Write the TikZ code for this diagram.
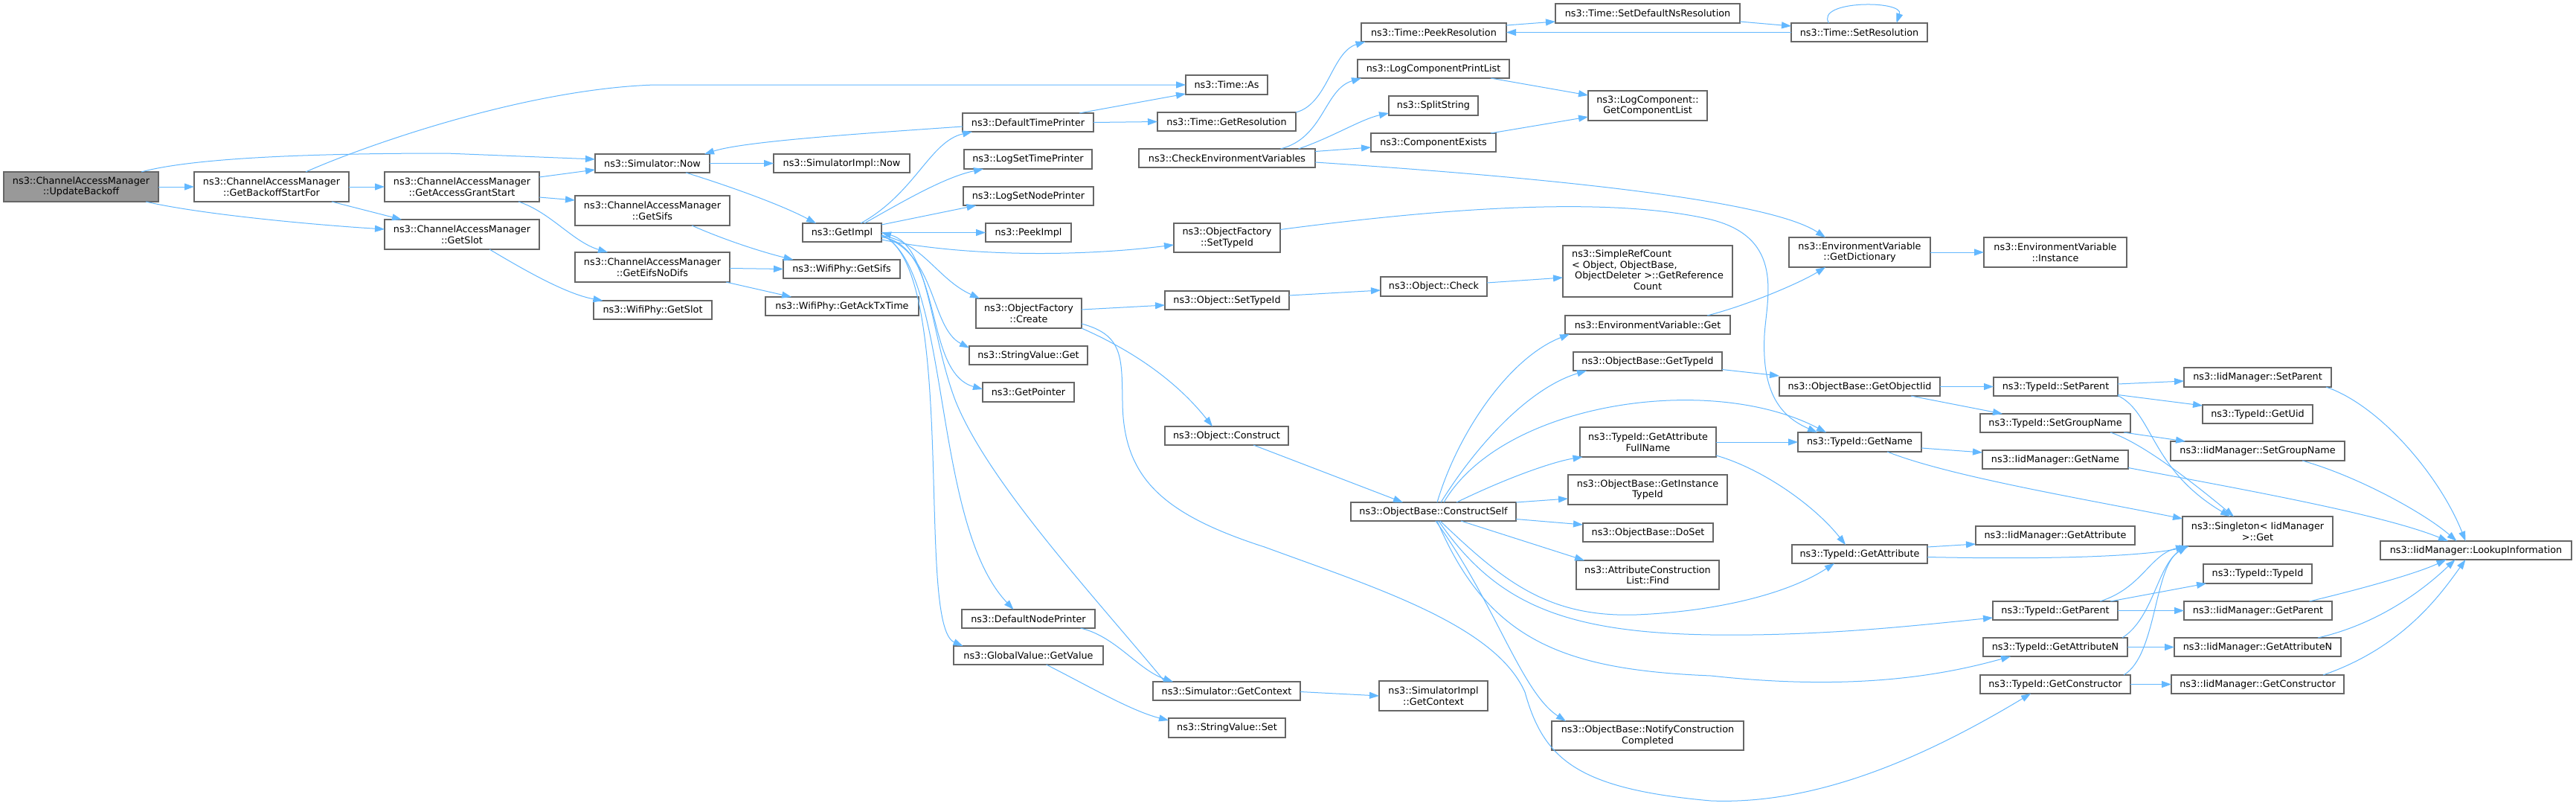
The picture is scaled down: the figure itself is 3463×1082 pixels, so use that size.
\documentclass[tikz,border=0pt]{standalone}
\usepackage{fontspec}
\setmainfont{DejaVu Sans}
\usetikzlibrary{arrows.meta}
\definecolor{edgecol}{HTML}{63B8FF}
\definecolor{boxline}{HTML}{666666}
\definecolor{rootfill}{HTML}{999999}
\tikzset{
 box/.style={draw=boxline, line width=1.2pt, fill=white, rectangle, inner sep=0pt, outer sep=0pt, align=center, font=\fontsize{12.8}{14.5}\selectfont},
 rootbox/.style={fill=rootfill},
 cg/.style={draw=edgecol, line width=1pt, -{Triangle[length=13pt,width=9pt]}},
}
\newcommand\NB[7][]{\node[box,#1,minimum width={#5-#3},minimum height={#6-#4}] (#2) at ({(#3+#5)/2},{(#4+#6)/2}) {#7};}
\begin{document}
\begin{tikzpicture}[x=1pt,y=-1pt]
\fill[white] (0,0) rectangle (3463,1082);
\useasboundingbox (0,0) rectangle (3463,1082);
% nodes
\NB[rootbox]{ub}{5}{231}{213}{271}{ns3::ChannelAccessManager\\::UpdateBackoff}
\NB{gbsf}{261}{231}{469}{271}{ns3::ChannelAccessManager\\::GetBackoffStartFor}
\NB{gags}{517}{231}{725}{271}{ns3::ChannelAccessManager\\::GetAccessGrantStart}
\NB{camslot}{517}{295}{725}{335}{ns3::ChannelAccessManager\\::GetSlot}
\NB{simnow}{800}{207}{954}{232}{ns3::Simulator::Now}
\NB{simimplnow}{1040}{207}{1223}{232}{ns3::SimulatorImpl::Now}
\NB{camsifs}{773}{263}{981}{303}{ns3::ChannelAccessManager\\::GetSifs}
\NB{eifs}{773}{339}{981}{379}{ns3::ChannelAccessManager\\::GetEifsNoDifs}
\NB{wpslot}{798}{404}{957}{429}{ns3::WifiPhy::GetSlot}
\NB{getimpl}{1079}{300}{1185}{325}{ns3::GetImpl}
\NB{wpsifs}{1053}{349}{1210}{374}{ns3::WifiPhy::GetSifs}
\NB{wpack}{1029}{399}{1235}{424}{ns3::WifiPhy::GetAckTxTime}
\NB{timeas}{1594}{101}{1704}{127}{ns3::Time::As}
\NB{dtp}{1294}{152}{1470}{177}{ns3::DefaultTimePrinter}
\NB{getres}{1556}{151}{1742}{176}{ns3::Time::GetResolution}
\NB{lstp}{1296}{201}{1468}{227}{ns3::LogSetTimePrinter}
\NB{cev}{1531}{200}{1768}{225}{ns3::CheckEnvironmentVariables}
\NB{lsnp}{1295}{251}{1470}{276}{ns3::LogSetNodePrinter}
\NB{peekimpl}{1325}{300}{1440}{325}{ns3::PeekImpl}
\NB{ofsettid}{1578}{300}{1721}{339}{ns3::ObjectFactory\\::SetTypeId}
\NB{ofcreate}{1312}{401}{1454}{441}{ns3::ObjectFactory\\::Create}
\NB{osettid}{1566}{391}{1733}{416}{ns3::Object::SetTypeId}
\NB{svget}{1303}{465}{1462}{490}{ns3::StringValue::Get}
\NB{getptr}{1321}{514}{1444}{540}{ns3::GetPointer}
\NB{peekres}{1830}{31}{2025}{56}{ns3::Time::PeekResolution}
\NB{setdefns}{2091}{5}{2339}{31}{ns3::Time::SetDefaultNsResolution}
\NB{lcpl}{1825}{80}{2029}{105}{ns3::LogComponentPrintList}
\NB{split}{1867}{129}{1987}{155}{ns3::SplitString}
\NB{compex}{1843}{179}{2011}{204}{ns3::ComponentExists}
\NB{getcl}{2135}{122}{2295}{162}{ns3::LogComponent::\\GetComponentList}
\NB{ocheck}{1856}{372}{1999}{398}{ns3::Object::Check}
\NB{srefc}{2101}{330}{2329}{399}{\begin{tabular}{@{}l@{}}ns3::SimpleRefCount\\{<} Object, ObjectBase,\\\multicolumn{1}{@{}c@{}}{\ ObjectDeleter {>}::GetReference}\\\multicolumn{1}{@{}c@{}}{Count}\end{tabular}}
\NB{envget}{2104}{424}{2326}{449}{ns3::EnvironmentVariable::Get}
\NB{obgettid}{2115}{473}{2315}{498}{ns3::ObjectBase::GetTypeId}
\NB{setres}{2408}{31}{2591}{56}{ns3::Time::SetResolution}
\NB{getdict}{2405}{319}{2595}{359}{ns3::EnvironmentVariable\\::GetDictionary}
\NB{envinst}{2667}{319}{2859}{359}{ns3::EnvironmentVariable\\::Instance}
\NB{getoiid}{2392}{507}{2608}{532}{ns3::ObjectBase::GetObjectIid}
\NB{tsetparent}{2680}{507}{2847}{532}{ns3::TypeId::SetParent}
\NB{isetparent}{2936}{494}{3134}{520}{ns3::IidManager::SetParent}
\NB{dnp}{1293}{819}{1472}{844}{ns3::DefaultNodePrinter}
\NB{gvget}{1282}{868}{1483}{893}{ns3::GlobalValue::GetValue}
\NB{simctx}{1550}{916}{1748}{941}{ns3::Simulator::GetContext}
\NB{svset}{1571}{965}{1728}{991}{ns3::StringValue::Set}
\NB{oconstruct}{1566}{573}{1732}{598}{ns3::Object::Construct}
\NB{cself}{1816}{675}{2038}{700}{ns3::ObjectBase::ConstructSelf}
\NB{sictx}{1854}{915}{2000}{955}{ns3::SimulatorImpl\\::GetContext}
\NB{gafn}{2124}{574}{2307}{614}{ns3::TypeId::GetAttribute\\FullName}
\NB{gitid}{2108}{638}{2322}{678}{ns3::ObjectBase::GetInstance\\TypeId}
\NB{doset}{2128}{703}{2303}{728}{ns3::ObjectBase::DoSet}
\NB{aclfind}{2119}{753}{2311}{792}{ns3::AttributeConstruction\\List::Find}
\NB{ncc}{2086}{969}{2344}{1008}{ns3::ObjectBase::NotifyConstruction\\Completed}
\NB{tgetname}{2417}{581}{2583}{607}{ns3::TypeId::GetName}
\NB{tgetattr}{2409}{732}{2591}{757}{ns3::TypeId::GetAttribute}
\NB{tsetgroup}{2662}{556}{2864}{581}{ns3::TypeId::SetGroupName}
\NB{igetname}{2665}{605}{2861}{630}{ns3::IidManager::GetName}
\NB{igetattr}{2656}{707}{2870}{732}{ns3::IidManager::GetAttribute}
\NB{tgetparent}{2679}{808}{2847}{833}{ns3::TypeId::GetParent}
\NB{tgetattrn}{2666}{857}{2860}{882}{ns3::TypeId::GetAttributeN}
\NB{tgetctor}{2662}{907}{2864}{932}{ns3::TypeId::GetConstructor}
\NB{tgetuid}{2961}{544}{3109}{569}{ns3::TypeId::GetUid}
\NB{isetgroup}{2918}{593}{3152}{619}{ns3::IidManager::SetGroupName}
\NB{singleton}{2934}{694}{3136}{734}{ns3::Singleton{<} IidManager\\{>}::Get}
\NB{lookup}{3200}{727}{3457}{752}{ns3::IidManager::LookupInformation}
\NB{ttypeid}{2962}{758}{3108}{784}{ns3::TypeId::TypeId}
\NB{igetparent}{2936}{808}{3135}{833}{ns3::IidManager::GetParent}
\NB{igetattrn}{2923}{857}{3147}{882}{ns3::IidManager::GetAttributeN}
\NB{igetctor}{2919}{907}{3151}{932}{ns3::IidManager::GetConstructor}
% edges
\draw[cg] ([xshift=81]ub.north) .. controls (260,212) and (420,206) .. (600,206) -- ([yshift=5.5]simnow.west);
\draw[cg] (ub.east) -- (gbsf.west);
\draw[cg] ([xshift=87]ub.south) .. controls (270,288) and (420,302) .. ([yshift=7]camslot.west);
\draw[cg] (gbsf.east) -- (gags.west);
\draw[cg] ([xshift=81]gbsf.south) -- ([xshift=-81]camslot.north);
\draw[cg] ([xshift=46]gbsf.north) .. controls (480,200) and (700,120) .. (880,114) -- (timeas.west);
\draw[cg] ([yshift=13]gags.east) -- ([yshift=-8.5]simnow.west);
\draw[cg] ([yshift=-14]gags.east) -- ([yshift=14]camsifs.west);
\draw[cg] ([xshift=76]gags.south) .. controls (740,285) and (770,325) .. ([xshift=-60]eifs.north);
\draw[cg] ([xshift=37]camslot.south) .. controls (700,360) and (760,395) .. ([xshift=-67]wpslot.north);
\draw[cg] ([xshift=53]camsifs.south) .. controls (980,325) and (1030,340) .. ([xshift=-65]wpsifs.north);
\draw[cg] ([yshift=-1.5]eifs.east) -- (wpsifs.west);
\draw[cg] ([xshift=99]eifs.south) -- ([xshift=-68]wpack.north);
\draw[cg] (simnow.east) -- (simimplnow.west);
\draw[cg] ([xshift=45]simnow.south) .. controls (980,250) and (1050,275) .. ([xshift=-35]getimpl.north);
\draw[cg] ([yshift=-5.5]dtp.west) .. controls (1150,180) and (1000,190) .. ([xshift=70]simnow.north);
\draw[cg] ([xshift=69]dtp.north) -- ([yshift=-12]timeas.west);
\draw[cg] (dtp.east) -- (getres.west);
\draw[cg] (getres.north east) .. controls (1785,140) and (1790,70) .. ([xshift=-92]peekres.south);
\draw[cg] ([yshift=9.5]peekres.east) -- ([yshift=-11]setdefns.west);
\draw[cg] ([yshift=-11]setdefns.east) -- ([yshift=8.5]setres.west);
\draw[cg] (setres.west) -- (peekres.east);
\draw[cg] ([xshift=-41]setres.north) .. controls (2440,0) and (2560,0) .. ([xshift=50]setres.north);
\draw[cg] ([xshift=72]cev.north) .. controls (1780,185) and (1780,120) .. ([xshift=-97]lcpl.south);
\draw[cg] ([xshift=96]cev.north) .. controls (1790,185) and (1830,160) .. ([yshift=-10]split.west);
\draw[cg] ([yshift=9]cev.east) -- ([yshift=-6.5]compex.west);
\draw[cg] ([yshift=-5.5]cev.east) .. controls (2100,240) and (2380,270) .. ([xshift=-46]getdict.north);
\draw[cg] ([xshift=77]lcpl.south) -- ([yshift=14]getcl.west);
\draw[cg] ([xshift=77]compex.north) -- ([yshift=-15]getcl.west);
\draw[cg] (getdict.east) -- (envinst.west);
\draw[cg] ([xshift=80]envget.north) .. controls (2350,410) and (2420,380) .. ([xshift=-46]getdict.south);
% GetImpl
\draw[cg] ([xshift=25]getimpl.north) .. controls (1230,260) and (1250,190) .. ([xshift=-75]dtp.south);
\draw[cg] ([xshift=30]getimpl.north) .. controls (1215,270) and (1270,238) .. ([xshift=-60]lstp.south);
\draw[cg] ([yshift=10.5]getimpl.east) -- ([xshift=-70]lsnp.south);
\draw[cg] (getimpl.east) -- (peekimpl.west);
\draw[cg] ([yshift=-9.5]getimpl.east) .. controls (1300,345) and (1450,345) .. ([yshift=-9.5]ofsettid.west);
\draw[cg] ([yshift=-4]getimpl.east) .. controls (1240,325) and (1260,375) .. ([xshift=-66]ofcreate.north);
\draw[cg] ([yshift=-5]getimpl.east) .. controls (1260,340) and (1250,440) .. ([yshift=10]svget.west);
\draw[cg] ([yshift=-6]getimpl.east) .. controls (1270,330) and (1240,500) .. ([yshift=4]getptr.west);
\draw[cg] ([yshift=-3]getimpl.east) .. controls (1280,360) and (1250,700) .. ([xshift=-20]dnp.north);
\draw[cg] ([yshift=-3]getimpl.east) .. controls (1290,360) and (1230,840) .. ([xshift=-88]gvget.north);
\draw[cg] ([xshift=-83]simctx.north) .. controls (1470,800) and (1330,650) .. (1285,540) .. controls (1250,450) and (1250,330) .. (getimpl.east);
\draw[cg] ([xshift=70]dnp.south) .. controls (1500,855) and (1530,900) .. ([xshift=-72]simctx.north);
\draw[cg] ([xshift=24]gvget.south) .. controls (1460,920) and (1520,955) .. ([yshift=10]svset.west);
\draw[cg] ([yshift=-1]simctx.east) -- (sictx.west);
% ObjectFactory
\draw[cg] ([yshift=5]ofcreate.east) -- ([yshift=-6.5]osettid.west);
\draw[cg] ([yshift=-20]ofcreate.east) .. controls (1520,470) and (1580,510) .. ([xshift=-19]oconstruct.north);
\draw[cg] ([yshift=-14]ofcreate.east) .. controls (1510,450) and (1508,480) .. (1509,540) .. controls (1510,640) and (1560,690) .. (1700,735) .. controls (1850,790) and (2010,840) .. (2050,930) .. controls (2075,1020) and (2120,1060) .. (2300,1076) .. controls (2450,1082) and (2600,1010) .. ([xshift=-33]tgetctor.south);
\draw[cg] ([yshift=6.5]osettid.east) -- ([yshift=-5]ocheck.west);
\draw[cg] ([yshift=5]ocheck.east) -- ([yshift=-8.5]srefc.west);
\draw[cg] ([xshift=36]oconstruct.south) -- ([xshift=-41]cself.north);
\draw[cg] ([yshift=11]ofsettid.east) .. controls (1900,285) and (2150,260) .. (2300,295) .. controls (2400,320) and (2375,400) .. (2372,450) .. controls (2368,530) and (2395,560) .. ([xshift=-57]tgetname.north);
% ConstructSelf
\draw[cg] ([xshift=5]cself.north) .. controls (1960,580) and (2030,480) .. ([xshift=-105]envget.south);
\draw[cg] ([xshift=10]cself.north) .. controls (1990,590) and (2060,520) .. ([xshift=-82]obgettid.south);
\draw[cg] ([xshift=14]cself.north) .. controls (2020,540) and (2300,500) .. ([xshift=-45]tgetname.north);
\draw[cg] ([xshift=31]cself.north) .. controls (2030,640) and (2090,620) .. ([xshift=-88]gafn.south);
\draw[cg] ([yshift=12.5]cself.east) -- ([yshift=-12]gitid.west);
\draw[cg] ([yshift=-10]cself.east) -- ([yshift=10.5]doset.west);
\draw[cg] ([xshift=37]cself.south) -- ([xshift=-85]aclfind.north);
\draw[cg] ([xshift=9]cself.south) .. controls (2020,780) and (2080,830) .. (2200,826) .. controls (2300,822) and (2400,800) .. ([xshift=-34]tgetattr.south);
\draw[cg] ([xshift=7]cself.south) .. controls (2010,810) and (2100,850) .. (2300,853) .. controls (2450,855) and (2580,840) .. ([yshift=-9.5]tgetparent.west);
\draw[cg] ([xshift=5]cself.south) .. controls (2000,860) and (2100,900) .. (2300,908) .. controls (2500,930) and (2620,905) .. ([xshift=-60]tgetattrn.south);
\draw[cg] ([xshift=3]cself.south) .. controls (2010,810) and (2045,930) .. ([xshift=-110]ncc.north);
% TypeId
\draw[cg] ([yshift=-11]obgettid.east) -- ([yshift=14.5]getoiid.west);
\draw[cg] (getoiid.east) -- (tsetparent.west);
\draw[cg] ([xshift=69]getoiid.south) -- ([xshift=-71]tsetgroup.north);
\draw[cg] ([yshift=3.5]tsetparent.east) -- ([yshift=-5]isetparent.west);
\draw[cg] ([yshift=-11]tsetparent.east) -- ([yshift=11.5]tgetuid.west);
\draw[cg] ([yshift=-12]tsetparent.east) .. controls (2895,555) and (2890,630) .. ([xshift=-37]singleton.north);
\draw[cg] ([xshift=92]tsetgroup.south) -- ([xshift=-97]isetgroup.north);
\draw[cg] ([xshift=74]tsetgroup.south) .. controls (2880,595) and (2950,650) .. ([xshift=-32]singleton.north);
\draw[cg] ([yshift=-8]tgetname.east) -- ([yshift=9.5]igetname.west);
\draw[cg] ([xshift=37]tgetname.south) .. controls (2620,640) and (2800,670) .. ([yshift=17]singleton.west);
\draw[cg] (gafn.east) -- (tgetname.west);
\draw[cg] ([yshift=-18]gafn.east) .. controls (2370,630) and (2440,680) .. ([xshift=-19]tgetattr.north);
\draw[cg] ([yshift=9.5]tgetattr.east) -- ([yshift=-11.5]igetattr.west);
\draw[cg] ([yshift=-4]tgetattr.east) .. controls (2750,752) and (2880,748) .. ([xshift=-92]singleton.south);
\draw[cg] ([xshift=60]tgetparent.north) .. controls (2880,790) and (2890,745) .. ([xshift=-97]singleton.south);
\draw[cg] ([xshift=74]tgetparent.north) -- ([xshift=-69]ttypeid.south);
\draw[cg] (tgetparent.east) -- (igetparent.west);
\draw[cg] ([xshift=90]tgetattrn.north) .. controls (2895,830) and (2900,760) .. ([xshift=-95]singleton.south);
\draw[cg] (tgetattrn.east) -- (igetattrn.west);
\draw[cg] ([xshift=92]tgetctor.north) .. controls (2900,880) and (2895,760) .. ([xshift=-94]singleton.south);
\draw[cg] (tgetctor.east) -- (igetctor.west);
% LookupInformation
\draw[cg] ([yshift=-11]igetname.east) .. controls (3000,655) and (3200,690) .. ([xshift=-37.5]lookup.north);
\draw[cg] ([xshift=92]isetparent.south) .. controls (3200,545) and (3280,640) .. ([xshift=-14]lookup.north);
\draw[cg] ([xshift=60]isetgroup.south) .. controls (3170,640) and (3260,690) .. ([xshift=-26]lookup.north);
\draw[cg] ([xshift=69]igetparent.north) .. controls (3180,790) and (3250,770) .. ([xshift=-40]lookup.south);
\draw[cg] ([xshift=81]igetattrn.north) .. controls (3190,840) and (3250,800) .. ([xshift=-28]lookup.south);
\draw[cg] ([xshift=88]igetctor.north) .. controls (3230,870) and (3280,800) .. ([xshift=-14]lookup.south);
\end{tikzpicture}
\end{document}
